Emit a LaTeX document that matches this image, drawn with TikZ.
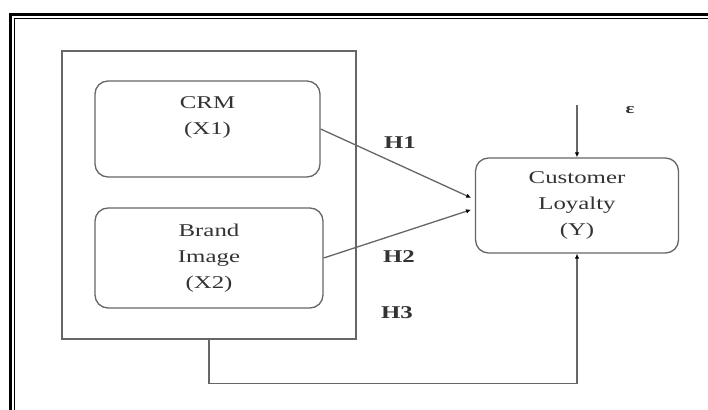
\documentclass[tikz,border=0pt]{standalone}
\usepackage{fontspec}
\setmainfont[FakeStretch=1.38]{Liberation Serif}
\usepackage{xcolor}
\usetikzlibrary{arrows.meta}
\definecolor{linegray}{gray}{0.4}
\definecolor{textgray}{gray}{0.2}

\begin{document}
\begin{tikzpicture}[x=1pt,y=-1pt]
\tikzset{every node/.style={text=textgray,font=\fontsize{18}{26}\selectfont,align=center}}
\tikzset{varbox/.style={draw=linegray,line width=1.3pt,rounded corners=13pt,inner sep=0pt}}
\tikzset{conn/.style={draw=linegray,line width=1.3pt,-{Latex[length=5pt,width=4.5pt,color=black]}}}
\tikzset{hyp/.style={font=\fontsize{18}{22}\selectfont\bfseries}}

\fill[white] (0,0) rectangle (708,409);
\useasboundingbox (0,0) rectangle (708,409);
\begin{scope}
\clip (0,0) rectangle (708,409);
\draw[line width=2.6pt] (10.5,420) -- (10.5,14.5) -- (720,14.5);
\draw[line width=1.4pt] (14.3,420) -- (14.3,18.5) -- (720,18.5);
\end{scope}

\node[draw=linegray,line width=1.3pt,minimum width=294pt,minimum height=288pt] (group) at (209,195) {};
\node[varbox,minimum width=225pt,minimum height=96pt] (crm) at (207.5,129) {CRM\\(X1)\\\phantom{X}};
\node[varbox,minimum width=228pt,minimum height=100pt] (brand) at (209,258) {Brand\\Image\\(X2)};
\node[varbox,minimum width=203pt,minimum height=95pt] (cl) at (577,205.5) {Customer\\Loyalty\\(Y)};

\node[hyp] (h1) at (400,143) {H1};
\node[hyp] (h2) at (399,257) {H2};
\node[hyp] (h3) at (397,313) {H3};
\node[font=\fontsize{15}{15}\selectfont\bfseries] (err) at (630,110) {ε};
\coordinate (errtop) at (577,105);

\draw[conn,shorten >=4pt] (crm.east) -- ([yshift=6pt]cl.west);
\draw[conn,shorten >=4pt] (brand.east) -- ([yshift=-3pt]cl.west);
\draw[conn] (errtop) -- (cl.north);
\draw[conn] (group.south) -- ++(0,44) -| (cl.south);

\end{tikzpicture}
\end{document}
